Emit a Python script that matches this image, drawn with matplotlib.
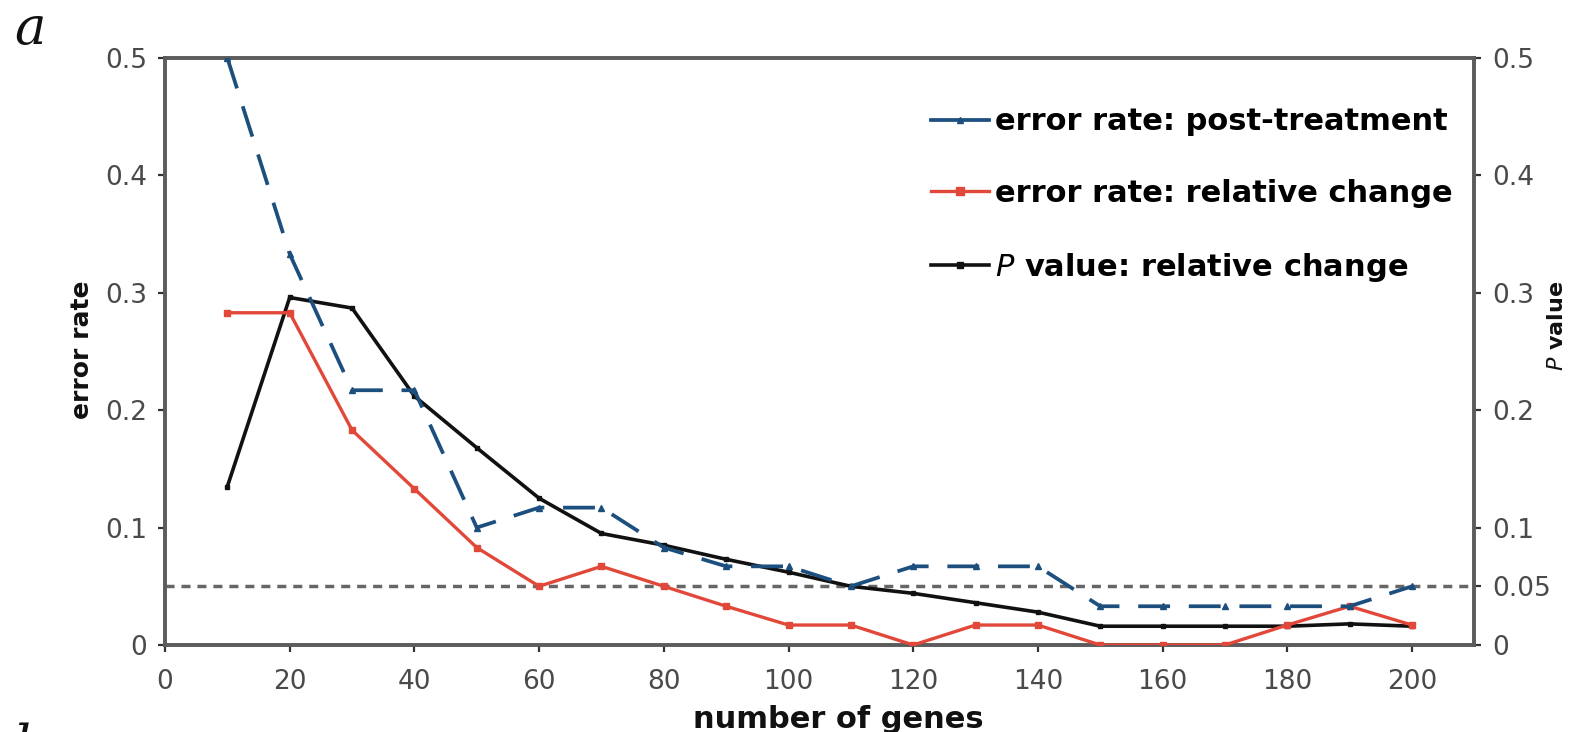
import matplotlib

matplotlib.use("Agg")
import matplotlib.pyplot as plt
from matplotlib.lines import Line2D

# number of genes used in the classifier
genes = [10, 20, 30, 40, 50, 60, 70, 80, 90, 100,
         110, 120, 130, 140, 150, 160, 170, 180, 190, 200]

err_post = [0.5, 0.333, 0.217, 0.217, 0.1, 0.117, 0.117, 0.083, 0.067, 0.067,
            0.05, 0.067, 0.067, 0.067, 0.033, 0.033, 0.033, 0.033, 0.033, 0.05]
err_rel = [0.283, 0.283, 0.183, 0.133, 0.083, 0.05, 0.067, 0.05, 0.033, 0.017,
           0.017, 0.0, 0.017, 0.017, 0.0, 0.0, 0.0, 0.017, 0.033, 0.017]
p_rel = [0.135, 0.296, 0.287, 0.212, 0.168, 0.125, 0.095, 0.085, 0.073, 0.062,
         0.05, 0.044, 0.036, 0.028, 0.016, 0.016, 0.016, 0.016, 0.018, 0.016]

labels = ["error rate: post-treatment", "error rate: relative change",
          r"$\it{P}$ value: relative change"]
left_ticks = [0, 0.1, 0.2, 0.3, 0.4, 0.5]
right_ticks = [0, 0.05, 0.1, 0.2, 0.3, 0.4, 0.5]
x_ticks = list(range(0, 201, 20))

BLUE = "#1d4f7e"
RED = "#e2483a"
BLACK = "#111111"
SPINE = "#5c5c5c"
TICKTXT = "#4a4a4a"

plt.rcParams.update({"font.family": "DejaVu Sans", "mathtext.fontset": "dejavusans"})

W, H = 1572, 732
fig = plt.figure(figsize=(W / 100, H / 100), dpi=100)
x0, x1, y0, y1 = 165, 165 + 210 * 6.235, 645, 58
ax = fig.add_axes([x0 / W, 1 - y0 / H, (x1 - x0) / W, (y0 - y1) / H])
ax2 = ax.twinx()

ax2.axhline(0.05, color="#666666", lw=2.5, ls=(0, (2.6, 2.0)), zorder=1)
ax.plot(genes, err_rel, color=RED, lw=2.4, marker="s", ms=5, zorder=3)
ax2.plot(genes, p_rel, color=BLACK, lw=2.6, marker="s", ms=3.5, zorder=3)
ax.plot(genes, err_post, color=BLUE, lw=2.7, ls=(0, (8.5, 5)),
        marker="^", ms=4, zorder=4)
ax.set_zorder(ax2.get_zorder() + 1)
ax.patch.set_visible(False)

for a, ticks in ((ax, left_ticks), (ax2, right_ticks)):
    a.set_xlim(0, 210)
    a.set_ylim(0, 0.5)
    a.set_yticks(ticks)
    a.set_yticklabels(["0" if t == 0 else f"{t:g}" for t in ticks])
    for s in a.spines.values():
        s.set_color(SPINE)
        s.set_linewidth(2.6)
    a.tick_params(length=5, width=1.6, color="#333333", labelsize=19,
                  labelcolor=TICKTXT, pad=8)

ax.set_xticks(x_ticks)
ax.set_xticklabels([str(t) for t in x_ticks])
ax.tick_params(axis="x", pad=12)

fig.text(82 / W, 1 - 350 / H, "error rate", fontsize=18, fontweight="bold",
         rotation=90, ha="center", va="center", color=BLACK)
fig.text(1557 / W, 1 - 326 / H, r"$\it{P}$ value", fontsize=16,
         fontweight="bold", rotation=90, ha="center", va="center", color=BLACK)
fig.text(838 / W, 1 - 728 / H, "number of genes", fontsize=22,
         fontweight="bold", ha="center", va="baseline", color=BLACK)
fig.text(14 / W, 1 - 44 / H, "a", fontsize=38, family="DejaVu Serif",
         style="italic", va="baseline", color=BLACK)
fig.text(14 / W, 1 - 762 / H, "b", fontsize=38, family="DejaVu Serif",
         style="italic", va="baseline", color=BLACK)

handles = [
    Line2D([], [], color=BLUE, lw=2.7, marker="^", ms=5),
    Line2D([], [], color=RED, lw=2.4, marker="s", ms=6),
    Line2D([], [], color=BLACK, lw=2.6, marker="s", ms=4),
]
fig.legend(handles, labels, loc="upper left",
           bbox_to_anchor=(916 / W, 1 - 92 / H), frameon=False, borderpad=0,
           handlelength=1.9, handletextpad=0.2, labelspacing=1.4,
           prop={"size": 22, "weight": "bold"})

fig.savefig("out.png", dpi=100)
